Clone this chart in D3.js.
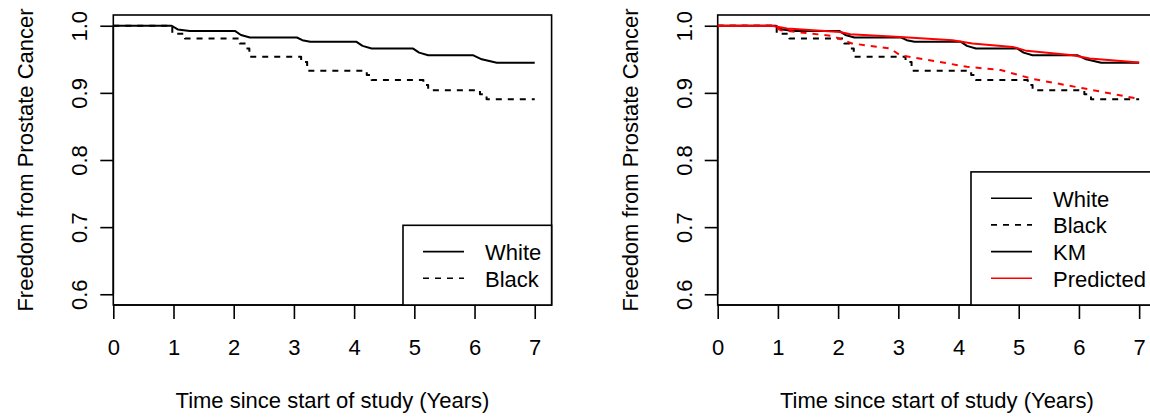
<!DOCTYPE html>
<html>
<head>
<meta charset="utf-8">
<script src="https://cdn.jsdelivr.net/npm/d3@7"></script>
<style>
  html, body { margin: 0; padding: 0; background: #fff; }
  svg { display: block; }
  text { font-family: "Liberation Sans", Arial, Helvetica, sans-serif; fill: #000; }
</style>
</head>
<body>
<svg id="chart" width="1150" height="417"></svg>
<script>
// Kaplan-Meier estimates by race (years since start of study)
const whiteTime = [0, 0.97, 1.07, 1.27, 2.02, 2.12, 2.27, 3.05, 3.14, 3.27, 4.04, 4.14, 4.29, 4.98, 5.08, 5.23, 5.98, 6.12, 6.37, 7.0];
const whiteSurv = [1.0, 1.0, 0.9945, 0.9923, 0.9923, 0.9862, 0.9825, 0.9825, 0.9785, 0.976, 0.976, 0.970, 0.966, 0.966, 0.960, 0.956, 0.956, 0.950, 0.9448, 0.9448];

const blackTime = [0, 0.98, 1.19, 2.10, 2.20, 2.26, 3.12, 3.22, 4.21, 4.29, 5.15, 5.23, 6.09, 6.20, 7.0];
const blackSurv = [1.0, 0.988, 0.981, 0.9735, 0.966, 0.9537, 0.946, 0.933, 0.9265, 0.919, 0.9117, 0.904, 0.898, 0.8905, 0.8905];

// Model-predicted survival by race
const predWhiteTime = [0, 0.9, 1.15, 2.03, 2.2, 3.03, 3.9, 4.23, 4.9, 5.13, 5.9, 6.18, 7.0];
const predWhiteSurv = [1.0, 1.0, 0.9958, 0.9908, 0.9874, 0.9834, 0.9785, 0.9736, 0.9685, 0.9626, 0.9562, 0.9513, 0.9454];

const predBlackTime = [0, 0.9, 1.05, 1.3, 1.9, 2.23, 2.86, 3.03, 4.14, 4.7, 5.24, 6.07, 7.0];
const predBlackSurv = [1.0, 1.0, 0.9933, 0.9908, 0.9849, 0.9736, 0.9662, 0.9562, 0.9389, 0.934, 0.9206, 0.9068, 0.8909];

// Axis ticks and labels
const xTicks = [0, 1, 2, 3, 4, 5, 6, 7];
const yTicks = [0.6, 0.7, 0.8, 0.9, 1.0];
const xLabel = "Time since start of study (Years)";
const yLabel = "Freedom from Prostate Cancer";
const legendLeft = ["White", "Black"];
const legendRight = ["White", "Black", "KM", "Predicted"];

const svg = d3.select("#chart");
const FONT = 22;
const LW = 2;

const xDomain = [0, 7.28];
const yDomain = [0.584, 1.016];
const plotTop = 15, plotBottom = 305;

function panel(left, right) {
  const x = d3.scaleLinear().domain(xDomain).range([left, right]);
  const y = d3.scaleLinear().domain(yDomain).range([plotBottom, plotTop]);
  const g = svg.append("g");

  // plot box
  g.append("rect")
    .attr("x", left).attr("y", plotTop)
    .attr("width", right - left).attr("height", plotBottom - plotTop)
    .attr("fill", "none").attr("stroke", "#000").attr("stroke-width", 1.6);

  // x axis
  const xa = g.append("g").attr("transform", `translate(0,${plotBottom})`)
    .call(d3.axisBottom(x).tickValues(xTicks).tickSize(14).tickFormat(d3.format("d")));
  xa.select(".domain").remove();
  xa.selectAll(".tick line").attr("stroke", "#000").attr("stroke-width", 1.6);
  xa.selectAll(".tick text")
    .attr("y", 50).attr("dy", null)
    .attr("fill", "#000")
    .style("font-size", FONT + "px")
    .style("font-family", '"Liberation Sans", Arial, sans-serif');
  g.append("line")
    .attr("x1", x(xTicks[0])).attr("x2", x(xTicks[xTicks.length - 1]))
    .attr("y1", plotBottom).attr("y2", plotBottom)
    .attr("stroke", "#000").attr("stroke-width", 1.6);

  // y axis
  const ya = g.append("g").attr("transform", `translate(${left},0)`)
    .call(d3.axisLeft(y).tickValues(yTicks).tickSize(13).tickFormat(d3.format(".1f")));
  ya.select(".domain").remove();
  ya.selectAll(".tick line").attr("stroke", "#000").attr("stroke-width", 1.6);
  ya.selectAll(".tick text")
    .attr("x", null).attr("dy", null)
    .attr("fill", "#000")
    .attr("transform", "translate(-26,0) rotate(-90)")
    .attr("text-anchor", "middle")
    .style("font-size", FONT + "px")
    .style("font-family", '"Liberation Sans", Arial, sans-serif');
  g.append("line")
    .attr("x1", left).attr("x2", left)
    .attr("y1", y(yTicks[0])).attr("y2", y(yTicks[yTicks.length - 1]))
    .attr("stroke", "#000").attr("stroke-width", 1.6);

  // axis titles
  g.append("text")
    .attr("x", (left + right) / 2).attr("y", 408)
    .attr("text-anchor", "middle")
    .style("font-size", FONT + "px")
    .text(xLabel);
  g.append("text")
    .attr("transform", `translate(${left - 80},${(plotTop + plotBottom) / 2}) rotate(-90)`)
    .attr("text-anchor", "middle")
    .style("font-size", FONT + "px")
    .text(yLabel);

  return { g, x, y, left, right };
}

function curve(p, times, surv, color, dashed, stepped) {
  const line = d3.line()
    .x((d, i) => p.x(times[i]))
    .y(d => p.y(d))
    .curve(stepped ? d3.curveStepAfter : d3.curveLinear);
  p.g.append("path")
    .attr("d", line(surv))
    .attr("fill", "none")
    .attr("stroke", color)
    .attr("stroke-width", LW)
    .attr("stroke-linejoin", "round")
    .attr("stroke-dasharray", dashed ? "6,6" : null);
}

function legend(p, labels, styles, boxLeft) {
  const rowH = 26.7;
  const boxTop = plotBottom - 27 - rowH * (labels.length - 1) - 26;
  p.g.append("rect")
    .attr("x", boxLeft).attr("y", boxTop)
    .attr("width", p.right - boxLeft).attr("height", plotBottom - boxTop)
    .attr("fill", "#fff").attr("stroke", "#000").attr("stroke-width", 1.6);
  labels.forEach((lab, i) => {
    const cy = boxTop + 26.3 + i * rowH;
    p.g.append("line")
      .attr("x1", boxLeft + 20).attr("x2", boxLeft + 61)
      .attr("y1", cy).attr("y2", cy)
      .attr("stroke", styles[i].color).attr("stroke-width", 1.6)
      .attr("stroke-dasharray", styles[i].dashed ? "6,6" : null);
    p.g.append("text")
      .attr("x", boxLeft + 82).attr("y", cy + 8.5)
      .style("font-size", FONT + "px")
      .text(lab);
  });
}

// Left panel: observed curves
const pL = panel(113.3, 551.6);
curve(pL, whiteTime, whiteSurv, "#000", false, false);
curve(pL, blackTime, blackSurv, "#000", true, true);
legend(pL, legendLeft, [{ color: "#000", dashed: false }, { color: "#000", dashed: true }], 403);

// Right panel: observed vs predicted
const pR = panel(717.7, 1156);
curve(pR, whiteTime, whiteSurv, "#000", false, false);
curve(pR, blackTime, blackSurv, "#000", true, true);
curve(pR, predWhiteTime, predWhiteSurv, "#ff0000", false, false);
curve(pR, predBlackTime, predBlackSurv, "#ff0000", true, false);
legend(pR, legendRight, [
  { color: "#000", dashed: false },
  { color: "#000", dashed: true },
  { color: "#000", dashed: false },
  { color: "#ff0000", dashed: false }
], 971);
</script>
</body>
</html>
